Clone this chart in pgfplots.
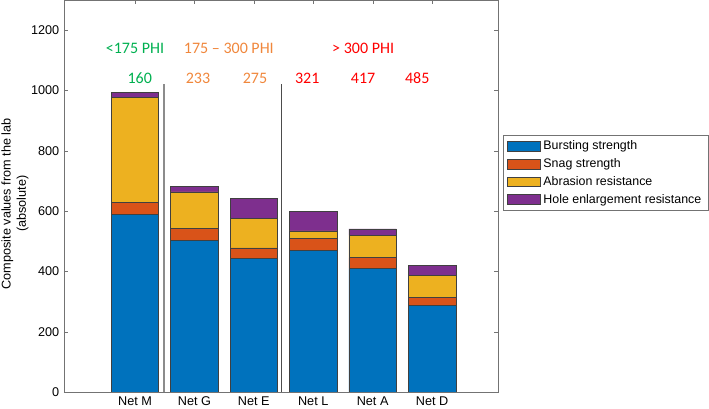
\documentclass[border=0pt]{standalone}
\usepackage{pgfplots}
\pgfplotsset{compat=1.18}
\usepackage{pgfplotstable}
\usepackage{fontspec}
\setmainfont{Liberation Sans}
\newfontfamily\annfont{Carlito}

\definecolor{mblue}{RGB}{0,114,189}
\definecolor{morange}{RGB}{217,83,25}
\definecolor{myellow}{RGB}{237,177,32}
\definecolor{mpurple}{RGB}{126,47,142}
\definecolor{tgreen}{RGB}{0,176,80}
\definecolor{torange}{RGB}{240,135,60}
\definecolor{tred}{RGB}{255,0,0}

% net, bursting, snag, abrasion, hole enlargement
\pgfplotstableread{
x  burst snag abr hole
1  588   40   350 16
2  502   40   122 18
3  443   35   99  64
4  470   39   25  64
5  410   36   74  21
6  287   28   72  33
}\netdata

\begin{document}
\begin{tikzpicture}
\path[use as bounding box] (-48pt,-12.75pt) rectangle (483.75pt,294pt);
\begin{axis}[
  at={(0,0)}, anchor=south west,
  scale only axis,
  width=325.5pt, height=294pt,
  ybar stacked,
  bar width=0.8,
  xmin=-0.195, xmax=7.11,
  ymin=0, ymax=1300,
  xtick={1,2,3,4,5,6},
  xticklabels={Net M,Net G,Net E,Net L,Net A,Net D},
  ytick={0,200,...,1200},
  axis line style={black!55},
  major tick style={black!55},
  major tick length=3pt,
  tick align=inside,
  ticklabel style={font=\fontsize{9.5}{11}\selectfont},
  /pgf/number format/assume math mode=true,
  /pgf/number format/1000 sep={},
  ylabel={Composite values from the lab\\(absolute)},
  ylabel style={align=center, font=\fontsize{9.5}{11.5}\selectfont,
    at={(axis description cs:-0.113,0.48)}, anchor=center},
  legend style={at={(1.0115,0.656)}, anchor=north west,
    draw=black!55, font=\fontsize{9.3}{11}\selectfont,
    row sep=1.2pt,
    cells={anchor=west}},
  area legend,
  legend image post style={xscale=1.45, yscale=1.3},
]
\addplot[fill=mblue, draw=black!75] table[x=x,y=burst] {\netdata};
\addplot[fill=morange, draw=black!75] table[x=x,y=snag] {\netdata};
\addplot[fill=myellow, draw=black!75] table[x=x,y=abr] {\netdata};
\addplot[fill=mpurple, draw=black!75] table[x=x,y=hole] {\netdata};
\legend{Bursting strength,Snag strength,Abrasion resistance,Hole enlargement resistance}

\draw[black!45, line width=1pt] (axis cs:1.49,0) -- (axis cs:1.49,1023);
\draw[black!70, line width=0.6pt] (axis cs:3.47,0) -- (axis cs:3.47,1023);

\node[text=tgreen, font=\annfont\fontsize{12}{14}\selectfont] at (axis cs:1,1139) {<175 PHI};
\node[text=torange, font=\annfont\fontsize{12}{14}\selectfont] at (axis cs:2.58,1139) {175 – 300 PHI};
\node[text=tred, font=\annfont\fontsize{12}{14}\selectfont] at (axis cs:4.84,1139) {> 300 PHI};
\node[text=tgreen, font=\annfont\fontsize{12}{14}\selectfont] at (axis cs:1.08,1040) {160};
\node[text=torange, font=\annfont\fontsize{12}{14}\selectfont] at (axis cs:2.06,1040) {233};
\node[text=torange, font=\annfont\fontsize{12}{14}\selectfont] at (axis cs:3.02,1040) {275};
\node[text=tred, font=\annfont\fontsize{12}{14}\selectfont] at (axis cs:3.9,1040) {321};
\node[text=tred, font=\annfont\fontsize{12}{14}\selectfont] at (axis cs:4.84,1040) {417};
\node[text=tred, font=\annfont\fontsize{12}{14}\selectfont] at (axis cs:5.75,1040) {485};
\end{axis}
\end{tikzpicture}
\end{document}
